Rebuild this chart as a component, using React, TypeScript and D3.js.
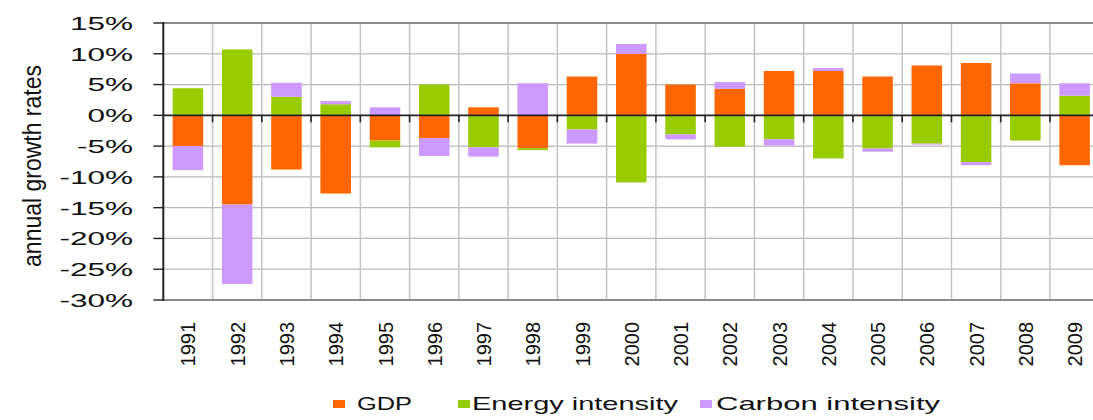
import React from "react";
import * as d3 from "d3";

const years = ["1991","1992","1993","1994","1995","1996","1997","1998","1999","2000","2001","2002","2003","2004","2005","2006","2007","2008","2009"];
const gdp = [-5.0, -14.5, -8.8, -12.7, -4.1, -3.7, 1.3, -5.35, 6.3, 10.0, 5.0, 4.3, 7.2, 7.2, 6.3, 8.1, 8.5, 5.2, -8.1];
const energy = [4.4, 10.7, 3.0, 1.8, -1.1, 5.0, -5.2, -0.3, -2.3, -10.9, -3.1, -5.1, -3.9, -7.0, -5.4, -4.6, -7.6, -4.1, 3.2];
const carbon = [-3.9, -12.9, 2.3, 0.5, 1.3, -2.9, -1.5, 5.2, -2.3, 1.6, -0.8, 1.1, -1.0, 0.5, -0.5, -0.15, -0.5, 1.6, 2.0];
const seriesNames = ["GDP", "Energy intensity", "Carbon intensity"];
const seriesKeys = ["gdp", "energy", "carbon"];
const colors = ["#FF6600", "#99CC00", "#CC99FF"];
const yTicks = [15, 10, 5, 0, -5, -10, -15, -20, -25, -30];

const W = 1093, H = 420;
const left = 163.3, top = 23, bottom = 300;
const step = 49.26;
const right = left + step * years.length;

export default function App() {
  const x = d3.scaleBand<string>().domain(years).range([left, right]).paddingInner(0.38).paddingOuter(0.19);
  const y = d3.scaleLinear().domain([-30, 15]).range([bottom, top]);
  const rows = years.map((yr, i) => ({ year: yr, gdp: gdp[i], energy: energy[i], carbon: carbon[i] }));
  const stack = d3.stack<any>().keys(seriesKeys).offset(d3.stackOffsetDiverging);
  const layers = stack(rows);
  const boundaries = d3.range(years.length + 1).map(i => left + i * step);

  const legendItems = [
    { sq: 333, tx: 357, len: 55 },
    { sq: 458, tx: 472, len: 206 },
    { sq: 700, tx: 716, len: 224 },
  ];

  return (
    <div>
      <style>{`body{margin:0;} svg{display:block;}`}</style>
      <svg width={W} height={H} style={{ fontFamily: "'Liberation Sans', Arial, sans-serif" }}>
        <rect x={0} y={0} width={W} height={H} fill="#fff" />
        {/* horizontal gridlines */}
        {yTicks.filter(t => t !== 0 && t !== 15 && t !== -30).map(t => (
          <line key={"h" + t} x1={left} x2={right} y1={y(t)} y2={y(t)} stroke="#b8b8b8" strokeWidth={1.2} />
        ))}
        {/* vertical gridlines */}
        {boundaries.slice(1).map((bx, i) => (
          <line key={"v" + i} x1={bx} x2={bx} y1={top} y2={bottom} stroke="#c4c4c4" strokeWidth={1.5} />
        ))}
        {/* top and bottom border */}
        <line x1={left} x2={right} y1={y(15)} y2={y(15)} stroke="#8a8a8a" strokeWidth={2} />
        <line x1={left} x2={right} y1={y(-30)} y2={y(-30)} stroke="#8a8a8a" strokeWidth={2} />
        {/* bars */}
        {layers.map((layer, si) => (
          <g key={si} fill={colors[si]}>
            {layer.map((d, i) => {
              const y0 = y(Math.max(d[0], d[1]));
              const y1 = y(Math.min(d[0], d[1]));
              return <rect key={i} x={x(years[i])} y={y0} width={x.bandwidth()} height={Math.max(0, y1 - y0)} />;
            })}
          </g>
        ))}
        {/* zero line */}
        <line x1={left} x2={right} y1={y(0)} y2={y(0)} stroke="#222" strokeWidth={1.6} />
        {boundaries.slice(1).map((bx, i) => (
          <line key={"zt" + i} x1={bx} x2={bx} y1={y(0)} y2={y(0) + 7} stroke="#222" strokeWidth={1.6} />
        ))}
        {/* left axis */}
        <line x1={left} x2={left} y1={top - 1} y2={bottom + 1} stroke="#222" strokeWidth={2} />
        {yTicks.map(t => (
          <g key={"yt" + t}>
            <line x1={left - 10} x2={left} y1={y(t)} y2={y(t)} stroke="#222" strokeWidth={1.4} />
            <text transform={`translate(133,${y(t)}) scale(1.66,1)`} textAnchor="end" dy="0.36em" fontSize={19} fill="#111">
              {t + "%"}
            </text>
          </g>
        ))}
        {/* y title */}
        <text transform={`translate(32,166) scale(1.15,1) rotate(-90)`} textAnchor="middle" dy="0.35em" fontSize={23} fill="#111">
          annual growth rates
        </text>
        {/* year labels */}
        {years.map(yr => (
          <text key={yr} transform={`translate(${(x(yr) as number) + x.bandwidth() / 2},322) scale(1.05,1) rotate(-90)`} textAnchor="end" dy="0.36em" fontSize={20} fill="#111">
            {yr}
          </text>
        ))}
        {/* legend */}
        {legendItems.map((it, i) => (
          <g key={"lg" + i}>
            <rect x={it.sq} y={400} width={12} height={8} fill={colors[i]} />
            <text x={it.tx} y={410} fontSize={18.5} textLength={it.len} lengthAdjust="spacingAndGlyphs" fill="#111">
              {seriesNames[i]}
            </text>
          </g>
        ))}
      </svg>
    </div>
  );
}
